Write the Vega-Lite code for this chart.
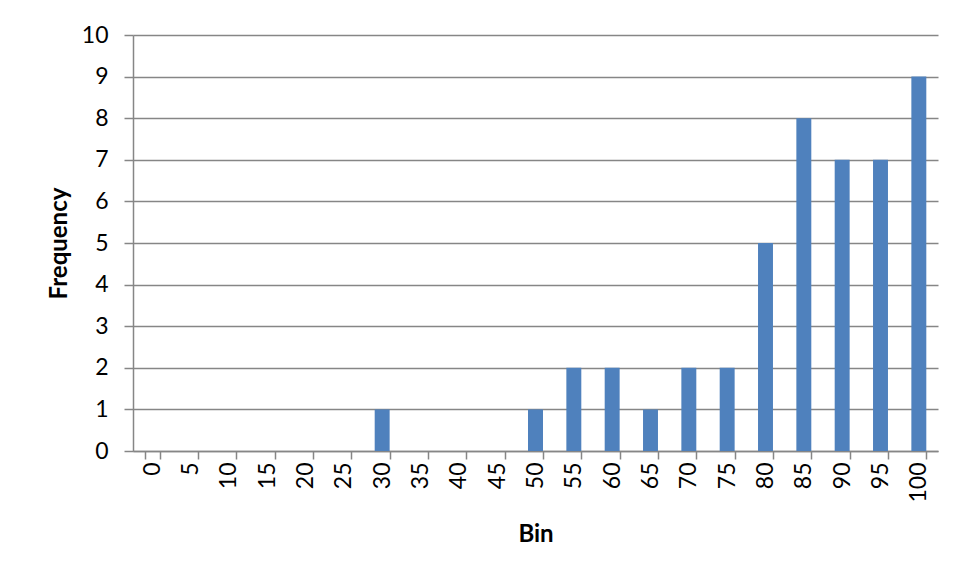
{
  "$schema": "https://vega.github.io/schema/vega-lite/v6.json",
  "autosize": "none",
  "width": 805,
  "height": 416,
  "padding": {"left": 133, "top": 35, "right": 31, "bottom": 132},
  "background": "white",
  "config": {
    "view": {"stroke": null},
    "font": "Lato",
    "axis": {
      "labelFont": "Lato",
      "titleFont": "Lato",
      "labelFontSize": 23,
      "titleFontSize": 24,
      "titleFontWeight": "bold",
      "labelColor": "black",
      "titleColor": "black",
      "domainColor": "#868686",
      "tickColor": "#868686",
      "gridColor": "#868686",
      "domainWidth": 1.5,
      "tickWidth": 1.5,
      "gridWidth": 1.5
    }
  },
  "data": {
    "values": [
      {"bin": "0", "freq": 0},
      {"bin": "5", "freq": 0},
      {"bin": "10", "freq": 0},
      {"bin": "15", "freq": 0},
      {"bin": "20", "freq": 0},
      {"bin": "25", "freq": 0},
      {"bin": "30", "freq": 1},
      {"bin": "35", "freq": 0},
      {"bin": "40", "freq": 0},
      {"bin": "45", "freq": 0},
      {"bin": "50", "freq": 1},
      {"bin": "55", "freq": 2},
      {"bin": "60", "freq": 2},
      {"bin": "65", "freq": 1},
      {"bin": "70", "freq": 2},
      {"bin": "75", "freq": 2},
      {"bin": "80", "freq": 5},
      {"bin": "85", "freq": 8},
      {"bin": "90", "freq": 7},
      {"bin": "95", "freq": 7},
      {"bin": "100", "freq": 9}
    ]
  },
  "mark": {"type": "bar", "color": "#4F81BD"},
  "encoding": {
    "x": {
      "field": "bin",
      "type": "ordinal",
      "sort": null,
      "title": "Bin",
      "scale": {"paddingInner": 0.61, "paddingOuter": 0.305},
      "axis": {
        "labelAngle": -90,
        "tickBand": "extent",
        "tickSize": 8,
        "labelPadding": 3,
        "titlePadding": 20,
        "grid": false
      }
    },
    "y": {
      "field": "freq",
      "type": "quantitative",
      "title": "Frequency",
      "scale": {"domain": [0, 10], "nice": false},
      "axis": {
        "values": [0, 1, 2, 3, 4, 5, 6, 7, 8, 9, 10],
        "tickSize": 9,
        "labelPadding": 16,
        "titlePadding": 10,
        "grid": true
      }
    }
  }
}
